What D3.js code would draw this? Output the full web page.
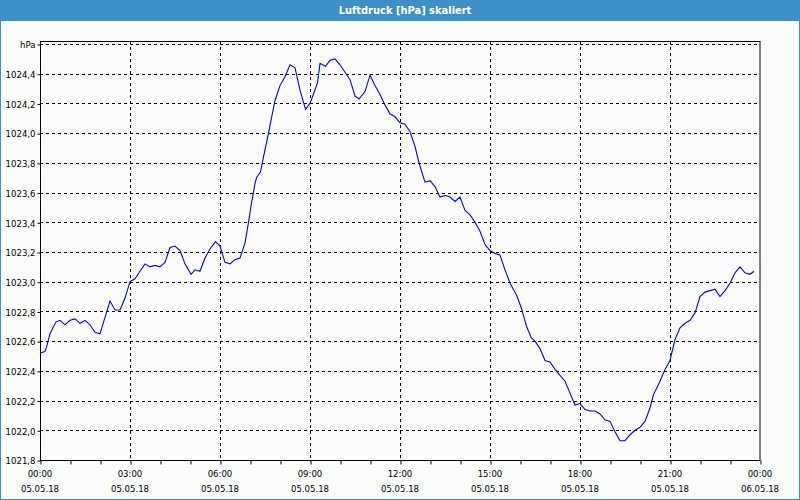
<!DOCTYPE html>
<html><head><meta charset="utf-8">
<script src="https://cdn.jsdelivr.net/npm/d3@7"></script>
<style>
html,body{margin:0;padding:0;background:#fbfdfb;}
svg{display:block;}
</style></head>
<body>
<svg id="c" width="800" height="500"></svg>
<script>
const chartTitle = "Luftdruck [hPa] skaliert";
const unitLabel = "hPa";
// minutes since 05.05.18 00:00
const times = [0,10,13,20,32,40,50,60,70,80,90,100,110,120,130,140,150,160,170,180,190,200,210,220,230,240,250,260,270,280,290,302,310,320,330,340,351,360,370,380,390,400,410,417,423,430,433,441,447,457,467,470,480,490,500,510,520,531,540,550,555,560,571,580,590,600,610,620,630,638,650,660,670,680,690,700,710,720,730,740,750,758,770,780,790,800,810,820,830,840,850,860,870,880,890,900,910,920,930,940,953,963,973,983,990,1000,1010,1020,1030,1040,1050,1060,1070,1080,1090,1100,1110,1120,1130,1140,1150,1160,1170,1180,1190,1200,1210,1220,1227,1240,1250,1260,1270,1280,1290,1300,1310,1320,1330,1340,1350,1360,1370,1380,1390,1400,1410,1420,1428];
const pressure = [1022.52,1022.53,1022.56,1022.65,1022.73,1022.74,1022.71,1022.74,1022.75,1022.72,1022.74,1022.71,1022.66,1022.65,1022.76,1022.87,1022.81,1022.81,1022.89,1023.00,1023.02,1023.07,1023.12,1023.10,1023.11,1023.10,1023.13,1023.23,1023.24,1023.21,1023.12,1023.05,1023.08,1023.07,1023.16,1023.22,1023.27,1023.24,1023.13,1023.12,1023.15,1023.16,1023.26,1023.40,1023.53,1023.66,1023.70,1023.74,1023.84,1024.00,1024.17,1024.22,1024.32,1024.38,1024.46,1024.44,1024.29,1024.16,1024.20,1024.29,1024.34,1024.47,1024.45,1024.49,1024.50,1024.46,1024.41,1024.36,1024.25,1024.23,1024.28,1024.39,1024.32,1024.26,1024.19,1024.13,1024.11,1024.07,1024.06,1024.01,1023.91,1023.80,1023.67,1023.68,1023.64,1023.57,1023.58,1023.57,1023.54,1023.57,1023.48,1023.45,1023.40,1023.34,1023.25,1023.21,1023.19,1023.18,1023.08,1022.99,1022.91,1022.82,1022.70,1022.62,1022.60,1022.55,1022.47,1022.46,1022.41,1022.37,1022.33,1022.25,1022.17,1022.18,1022.14,1022.13,1022.13,1022.11,1022.07,1022.06,1021.99,1021.93,1021.93,1021.97,1022.00,1022.02,1022.06,1022.15,1022.24,1022.33,1022.41,1022.47,1022.61,1022.69,1022.72,1022.74,1022.79,1022.90,1022.93,1022.94,1022.95,1022.90,1022.94,1022.99,1023.06,1023.10,1023.06,1023.05,1023.07];
const yTicks = [1021.8,1022.0,1022.2,1022.4,1022.6,1022.8,1023.0,1023.2,1023.4,1023.6,1023.8,1024.0,1024.2,1024.4,1024.6];
const yDomain = [1021.8, 1024.6];
const startDate = Date.UTC(2018,4,5,0,0);
const endDate = Date.UTC(2018,4,6,0,0);

const svg = d3.select("#c");
const W = 800, H = 500;
const L = 40, R = 760, T = 44, B = 460, frameTop = 41;
const font = "'DejaVu Sans Condensed','DejaVu Sans',sans-serif";

// background
svg.append("rect").attr("width",W).attr("height",H).attr("fill","#fbfdfb");
// title bar
svg.append("rect").attr("x",0).attr("y",0).attr("width",W).attr("height",21).attr("fill","#3d90c7");
svg.append("text").attr("x",405).attr("y",14).attr("text-anchor","middle")
  .attr("fill","#ffffff").attr("font-family",font).attr("font-weight","bold").attr("font-size","11px")
  .text(chartTitle);
// window border
svg.append("rect").attr("x",0.5).attr("y",0.5).attr("width",W-1).attr("height",H-1)
  .attr("fill","none").attr("stroke","#3d90c7").attr("stroke-width",1);

const x = d3.scaleUtc().domain([startDate,endDate]).range([L,R]);
const y = d3.scaleLinear().domain(yDomain).range([B,T]);

const fmtNum = d3.formatLocale({decimal:",",thousands:".",grouping:[3],currency:["","€"]}).format(".1f");

const g = svg.append("g");
// horizontal grid
g.selectAll("line.hg").data(yTicks.filter(v=>v>yDomain[0])).join("line")
  .attr("x1",L).attr("x2",R).attr("y1",d=>Math.round(y(d))+0.5).attr("y2",d=>Math.round(y(d))+0.5)
  .attr("stroke","#000").attr("stroke-dasharray","3,3").attr("stroke-width",1);
// vertical grid
const xMajor = x.ticks(d3.utcHour.every(3));
g.selectAll("line.vg").data(xMajor.filter(d=>+d>startDate && +d<endDate)).join("line")
  .attr("x1",d=>Math.round(x(d))+0.5).attr("x2",d=>Math.round(x(d))+0.5).attr("y1",frameTop).attr("y2",B)
  .attr("stroke","#000").attr("stroke-dasharray","3,3").attr("stroke-width",1);

// frame
svg.append("rect").attr("x",L+0.5).attr("y",frameTop+0.5).attr("width",R-L-0.5).attr("height",B-frameTop)
  .attr("fill","none").attr("stroke","#000").attr("stroke-width",1);

// x axis
const xAxis = d3.axisBottom(x).ticks(d3.utcHour.every(1)).tickSize(4).tickFormat("");
const xa = svg.append("g").attr("transform",`translate(0.5,${B+0.5})`).call(xAxis);
xa.select(".domain").remove();
xa.selectAll(".tick line").attr("stroke","#000");
const xl = svg.append("g");
xl.selectAll("text.t").data(xMajor).join("text")
  .attr("x",d=>x(d)).attr("y",477).attr("text-anchor","middle")
  .attr("font-family",font).attr("font-size","9.5px").attr("fill","#000")
  .text(d=>d3.utcFormat("%H:%M")(d));
xl.selectAll("text.d").data(xMajor).join("text")
  .attr("x",d=>x(d)).attr("y",492).attr("text-anchor","middle")
  .attr("font-family",font).attr("font-size","9.5px").attr("fill","#000")
  .text(d=>d3.utcFormat("%d.%m.%y")(d));

// y axis
const yAxis = d3.axisLeft(y).tickValues(yTicks).tickSize(3).tickPadding(2)
  .tickFormat(d=> Math.abs(d-yDomain[1])<1e-9 ? unitLabel : fmtNum(d));
const ya = svg.append("g").attr("transform",`translate(${L+0.5},0.5)`).call(yAxis);
ya.select(".domain").remove();
ya.selectAll(".tick line").attr("stroke","#000");
ya.selectAll(".tick text").attr("font-family",font).attr("font-size","9.5px").attr("fill","#000").attr("dy","0.35em");

// line
const pts = times.map((t,i)=>({d:startDate + t*60000, v:pressure[i]}));
svg.append("path").datum(pts)
  .attr("d", d3.line().x(p=>x(p.d)).y(p=>y(p.v)))
  .attr("fill","none").attr("stroke","#0000ff").attr("stroke-width",1.1);
</script>
</body></html>
